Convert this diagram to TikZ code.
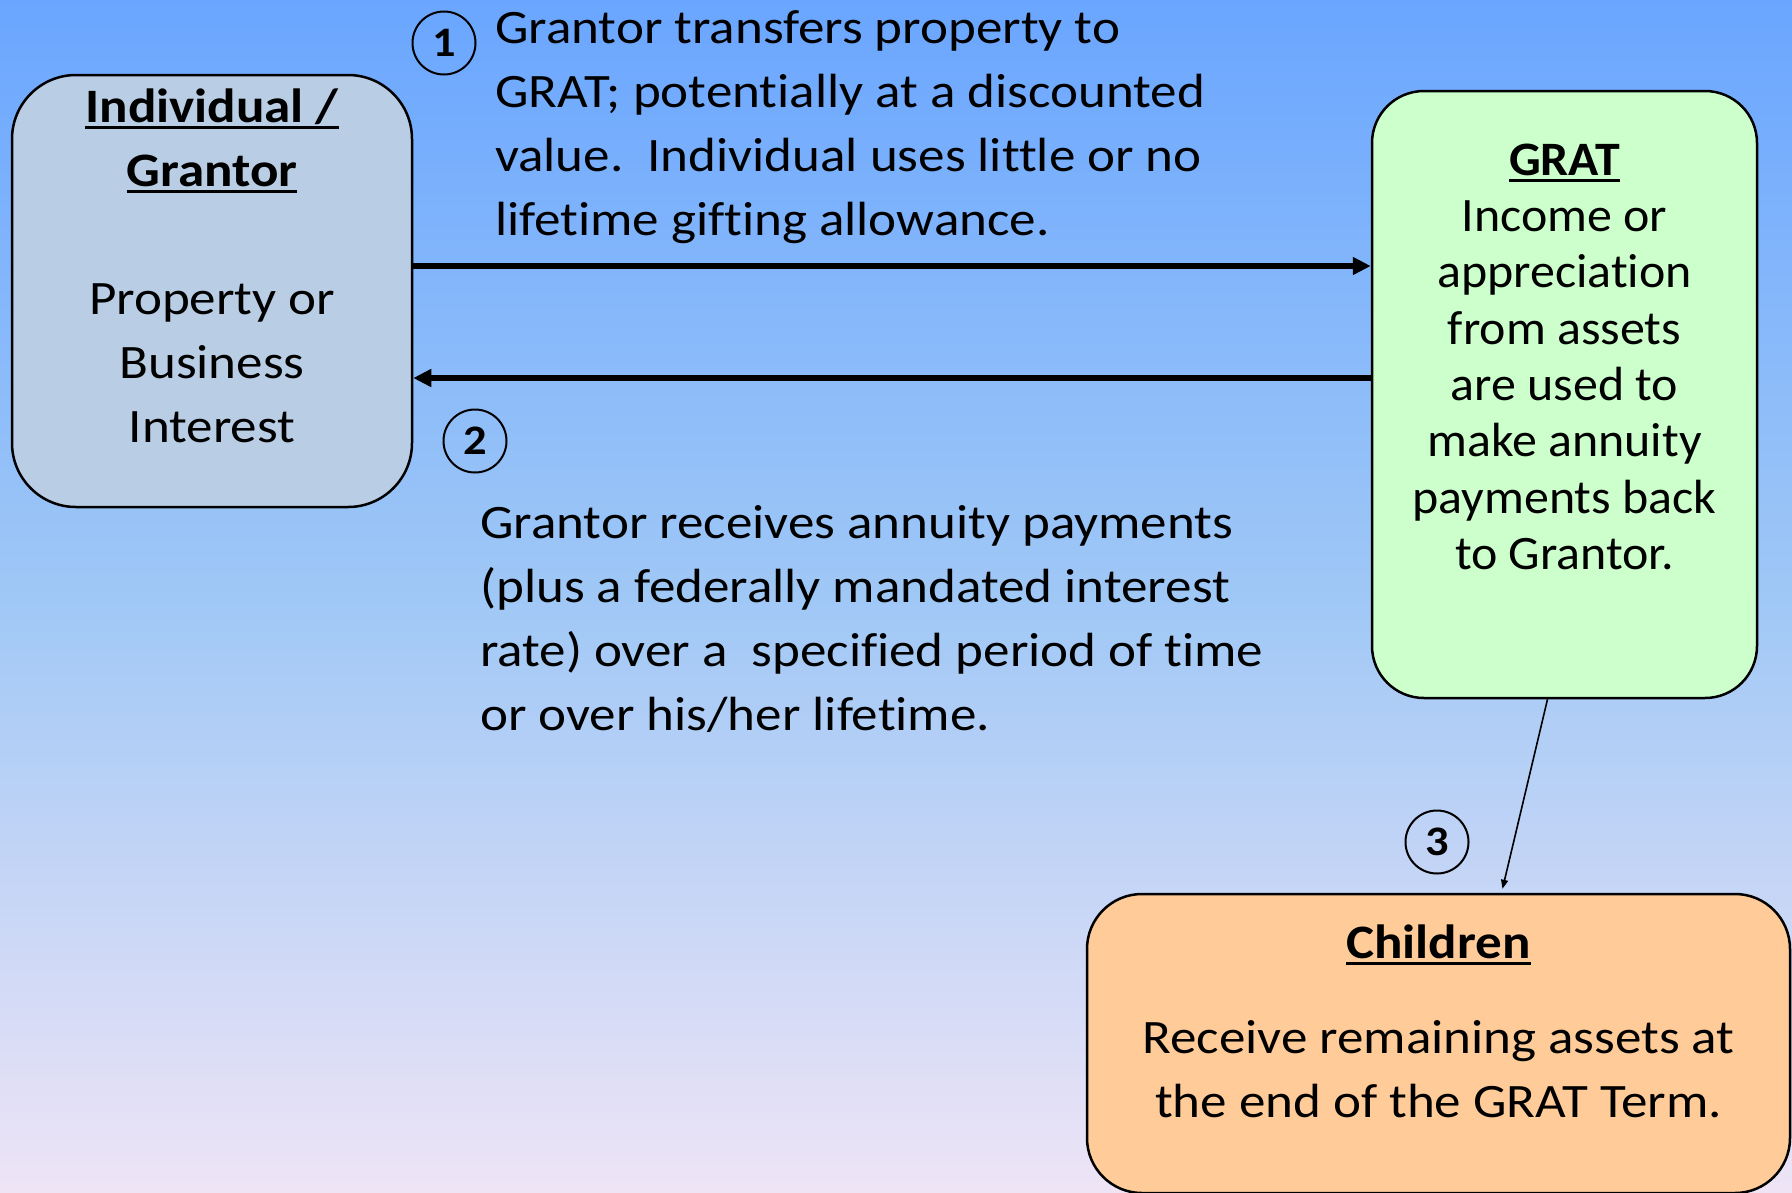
\documentclass[tikz,border=0pt]{standalone}
\usepackage{fontspec}
\setmainfont{Carlito}[FakeStretch=1.105, RawFeature={-liga;-clig;-dlig;-calt}]
\newfontfamily\gratfont{Carlito}[FakeStretch=1.04, RawFeature={-liga;-clig;-dlig;-calt}]
\usetikzlibrary{arrows.meta,calc}
\definecolor{bgtop}{RGB}{106,166,255}
\definecolor{bgmid}{RGB}{160,200,246}
\definecolor{bgbot}{RGB}{238,228,246}
\definecolor{grantorfill}{RGB}{185,205,228}
\definecolor{gratfill}{RGB}{204,255,204}
\definecolor{childfill}{RGB}{255,204,153}
\newcommand\myul[1]{\setbox0\hbox{#1}\rlap{\rule[-7pt]{\wd0}{3pt}}\box0}
\newcommand\topstrut{\rule{0pt}{40pt}}
\tikzset{
  boxshape/.style={draw=black, line width=2.5pt, inner sep=0pt},
  txt/.style={inner sep=0pt, font=\fontsize{48}{64}\selectfont},
  numcirc/.style={draw=black, line width=2pt, circle, minimum size=63pt, inner sep=0pt, font=\fontsize{42}{44}\selectfont\bfseries},
  bigarr/.style={line width=5.5pt, -{Triangle[length=18pt,width=17pt]}},
  thinarr/.style={line width=1.6pt, -{Triangle[length=9pt,width=7pt]}}
}
\begin{document}
\begin{tikzpicture}[x=1pt,y=-1pt]
\useasboundingbox (0,0) rectangle (1792,1192);
\fill[top color=bgtop, bottom color=bgmid] (0,0) rectangle (1792,601);
\fill[top color=bgmid, bottom color=bgbot] (0,600) rectangle (1792,1192);

\node[boxshape, fill=grantorfill, rounded corners=64pt, minimum width=400pt, minimum height=432pt] (grantor) at (212,291) {};
\node[boxshape, fill=gratfill, rounded corners=52pt, minimum width=385pt, minimum height=607pt] (grat) at (1564.5,394.5) {};
\node[boxshape, fill=childfill, rounded corners=55pt, minimum width=703pt, minimum height=299pt] (child) at (1438.5,1043.5) {};

\node[txt, align=center, anchor=north] (grantortext) at (212,82)
  {\topstrut\textbf{\myul{Individual /}}\\ \textbf{\myul{Grantor}}\\[64pt] Property or\\ Business\\ Interest};
\node[txt, align=center, anchor=north, font=\fontsize{48}{56.3}\selectfont\gratfont] (grattext) at (1564.5,135)
  {\topstrut\textbf{\myul{GRAT}}\\ Income or\\ appreciation\\ from assets\\ are used to\\ make annuity\\ payments back\\ to Grantor.};
\node[txt, align=center, anchor=north] (childtext) at (1438.5,918)
  {\topstrut\textbf{\myul{Children}}\\[31pt] Receive remaining assets at\\ the end of the GRAT Term.};

\node[txt, align=left, anchor=north west] (step1text) at (495,3)
  {\topstrut Grantor transfers property to\\ GRAT; potentially at a discounted\\ value.\ \ Individual uses little or no\\ lifetime gifting allowance.};
\node[txt, align=left, anchor=north west] (step2text) at (480,498)
  {\topstrut Grantor receives annuity payments\\ (plus a federally mandated interest\\ rate) over a\ \ specified period of time\\ or over his/her lifetime.};

\node[numcirc] (n1) at (444,43) {1};
\node[numcirc] (n2) at (475,441) {2};
\node[numcirc] (n3) at (1437,842) {3};

\coordinate (a1) at ([yshift=25pt]grantor.east);
\coordinate (a2) at ([yshift=-87pt]grantor.east);
\draw[bigarr] (a1) -- (a1 -| grat.west);
\draw[bigarr] (a2 -| grat.west) -- (a2);
\draw[thinarr] ([xshift=-17pt]grat.south) -- ([xshift=64pt,yshift=4pt]child.north);
\end{tikzpicture}
\end{document}
